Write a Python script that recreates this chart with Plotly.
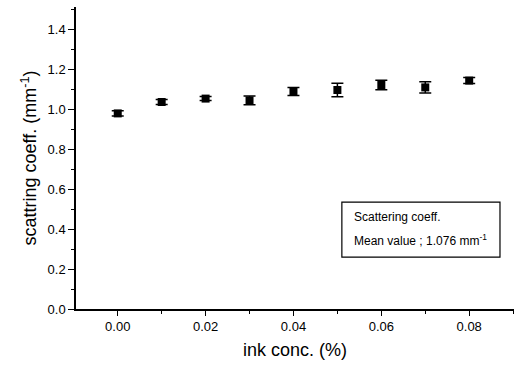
import plotly.graph_objects as go

ink_conc = [0.00, 0.01, 0.02, 0.03, 0.04, 0.05, 0.06, 0.07, 0.08]
scatt = [0.978, 1.035, 1.052, 1.043, 1.087, 1.095, 1.120, 1.108, 1.142]
scatt_err = [0.013, 0.012, 0.010, 0.022, 0.020, 0.034, 0.024, 0.028, 0.015]
x_ticks = [0.00, 0.02, 0.04, 0.06, 0.08]
y_ticks = [0.0, 0.2, 0.4, 0.6, 0.8, 1.0, 1.2, 1.4]

FONT = "Liberation Sans, Arial, sans-serif"

fig = go.Figure()
fig.add_trace(go.Scatter(
    x=ink_conc, y=scatt, mode="markers",
    marker=dict(symbol="square", size=8, color="black"),
    error_y=dict(type="data", array=scatt_err, visible=True,
                 color="black", thickness=1.5, width=6),
    showlegend=False,
))

fig.add_shape(type="rect", xref="paper", yref="paper",
              x0=0.607, x1=0.968, y0=0.172, y1=0.354,
              line=dict(color="black", width=1.2), fillcolor="white")
fig.add_annotation(xref="paper", yref="paper", x=0.630, y=0.305,
                   text="Scattering coeff.", showarrow=False,
                   xanchor="left", yanchor="middle",
                   font=dict(family=FONT, size=12, color="black"))
fig.add_annotation(xref="paper", yref="paper", x=0.630, y=0.228,
                   text="Mean value ; 1.076 mm<sup>-1</sup>", showarrow=False,
                   xanchor="left", yanchor="middle",
                   font=dict(family=FONT, size=12, color="black"))

fig.update_layout(
    width=515, height=369,
    margin=dict(l=76, r=1, t=7, b=60),
    paper_bgcolor="white", plot_bgcolor="white",
    font=dict(family=FONT, color="black"),
    xaxis=dict(
        range=[-0.0095, 0.0902], tickvals=x_ticks,
        ticktext=[f"{v:.2f}" for v in x_ticks],
        showgrid=False, zeroline=False, showline=True,
        linecolor="black", linewidth=1.5,
        ticks="outside", ticklen=5, tickwidth=1.2, tickcolor="black",
        minor=dict(dtick=0.01, ticks="outside", ticklen=3, tickcolor="black"),
        tickfont=dict(size=13, family=FONT),
        title=dict(text="ink conc. (%)", font=dict(size=18, family=FONT), standoff=10),
    ),
    yaxis=dict(
        range=[0, 1.51], tickvals=y_ticks,
        ticktext=[f"{v:.1f}" for v in y_ticks],
        showgrid=False, zeroline=False, showline=True,
        linecolor="black", linewidth=1.5,
        ticks="outside", ticklen=6, tickwidth=1.2, tickcolor="black",
        minor=dict(dtick=0.1, ticks="outside", ticklen=3, tickcolor="black"),
        tickfont=dict(size=13, family=FONT),
        title=dict(text="scattring coeff. (mm<sup>-1</sup>)", font=dict(size=18, family=FONT), standoff=6),
    ),
)

fig.write_html("out.html")
